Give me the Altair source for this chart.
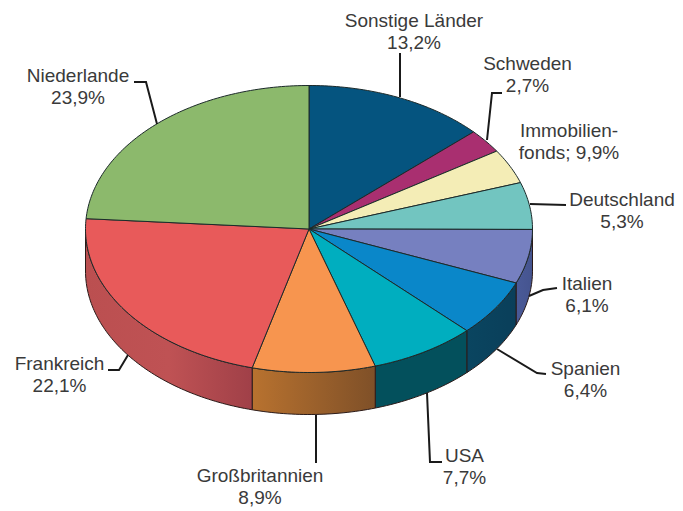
import math
import altair as alt

# --- data ---------------------------------------------------------------
categories = ["Sonstige Länder", "Schweden", "Immobilienfonds", "Deutschland", "Italien",
              "Spanien", "USA", "Großbritannien", "Frankreich", "Niederlande"]
# slice shares as drawn (the Immobilienfonds wedge is drawn at 3.9 %, its label prints 9,9 %)
values = [13.2, 2.7, 3.9, 5.3, 6.1, 6.4, 7.7, 8.9, 22.1, 23.9]
label_lines = [
    ["Sonstige Länder", "13,2%"], ["Schweden", "2,7%"], ["Immobilien-", "fonds; 9,9%"],
    ["Deutschland", "5,3%"], ["Italien", "6,1%"], ["Spanien", "6,4%"], ["USA", "7,7%"],
    ["Großbritannien", "8,9%"], ["Frankreich", "22,1%"], ["Niederlande", "23,9%"],
]

# --- styles and layout ----------------------------------------------------
top_colors = ["#05547f", "#a92f70", "#f4edb6", "#72c5c0", "#7680c0",
              "#0a87c9", "#00aebf", "#f7954f", "#e85a5a", "#8cb96c"]
wall_stops = {
    "Deutschland": ["#4a5a98", "#4a5a98"],
    "Italien": ["#4a5a98", "#45548f"],
    "Spanien": ["#0a4560", "#0a3f5a"],
    "USA": ["#03505c", "#03505c"],
    "Großbritannien": ["#b8722f", "#7f5028"],
    "Frankreich": ["#bb4f50", "#bf5254", "#a04048"],
}
label_anchor = [(414, 27), (527.5, 70), (569, 137), (622, 206), (587, 290),
                (585.5, 375), (464.5, 462), (260, 482), (59.5, 370), (78, 82)]
LINE_STEP = 22
leaders = [
    [(400, 53), (400, 97)],
    [(487, 140), (492, 93), (502, 93)],
    [(530, 204), (566, 205)],
    [(529, 296), (543, 290), (557, 288)],
    [(497, 349), (537, 373), (546, 374)],
    [(427, 393), (430, 462), (442, 462)],
    [(316, 415), (316, 463)],
    [(128, 355), (119, 370), (108, 370)],
    [(157, 124), (146, 82), (134, 82)],
]
CX, CY, RX, RY, DEPTH = 309, 229, 223.5, 143.5, 42
OFF = 8  # page margin


def pt(theta, dy=0.0):
    return [CX + RX * math.sin(theta) - OFF, CY - RY * math.cos(theta) + dy - OFF]


def arc(a, b, dy=0.0):
    n = max(2, int(abs(b - a) / math.radians(1)))
    return [pt(a + (b - a) * i / n, dy) for i in range(n + 1)]


def feature(name, ring_or_line, kind="Polygon"):
    coords = [ring_or_line] if kind == "Polygon" else ring_or_line
    return {"type": "Feature", "properties": {"name": name},
            "geometry": {"type": kind, "coordinates": coords}}


total = sum(values)
edges = [0.0]
for v in values:
    edges.append(edges[-1] + v / total * 2 * math.pi)

projection = dict(type="identity", scale=1, translate=[0, 0])
layers = []

# side walls: the part of each slice's rim on the front half of the ellipse
for name, a, b in zip(categories, edges[:-1], edges[1:]):
    lo, hi = max(a, math.pi / 2), min(b, 3 * math.pi / 2)
    if lo >= hi:
        continue
    ring = arc(lo, hi) + arc(hi, lo, DEPTH)
    ring.append(ring[0])
    stops = wall_stops[name]
    grad = alt.LinearGradient(
        gradient="linear", x1=0, x2=1, y1=0, y2=0,
        stops=[alt.GradientStop(offset=i / (len(stops) - 1), color=c) for i, c in enumerate(stops)],
    )
    layers.append(
        alt.Chart(alt.Data(values=[feature(name, ring)]))
        .mark_geoshape(fill=grad, stroke="#2a1a18", strokeWidth=1)
        .project(**projection)
    )

# top faces
for name, color, a, b in zip(categories, top_colors, edges[:-1], edges[1:]):
    ring = [[CX - OFF, CY - OFF]] + arc(a, b)
    ring.append(ring[0])
    layers.append(
        alt.Chart(alt.Data(values=[feature(name, ring)]))
        .mark_geoshape(fill=color, stroke="#1c2a2a", strokeWidth=1)
        .project(**projection)
    )

# leader lines
leader_feats = [
    feature("l%d" % i, [[x - OFF, y - OFF] for x, y in line], "LineString")
    for i, line in enumerate(leaders)
]
layers.append(
    alt.Chart(alt.Data(values=leader_feats))
    .mark_geoshape(filled=False, stroke="#1a1a1a", strokeWidth=2)
    .project(**projection)
)

# labels
rows = []
for lines, (x, y) in zip(label_lines, label_anchor):
    for i, t in enumerate(lines):
        rows.append({"t": t, "lon": x - OFF, "lat": y + i * LINE_STEP - OFF})
layers.append(
    alt.Chart(alt.Data(values=rows))
    .mark_text(font="Liberation Sans", fontSize=19, color="#3a3a3a", align="center", baseline="alphabetic")
    .encode(longitude="lon:Q", latitude="lat:Q", text="t:N")
    .project(**projection)
)

chart = (
    alt.layer(*layers)
    .properties(width=667, height=502, padding=0, background="white")
    .configure_view(stroke=None)
)
chart.save("out.html", embed_options={"renderer": "svg", "actions": False})
